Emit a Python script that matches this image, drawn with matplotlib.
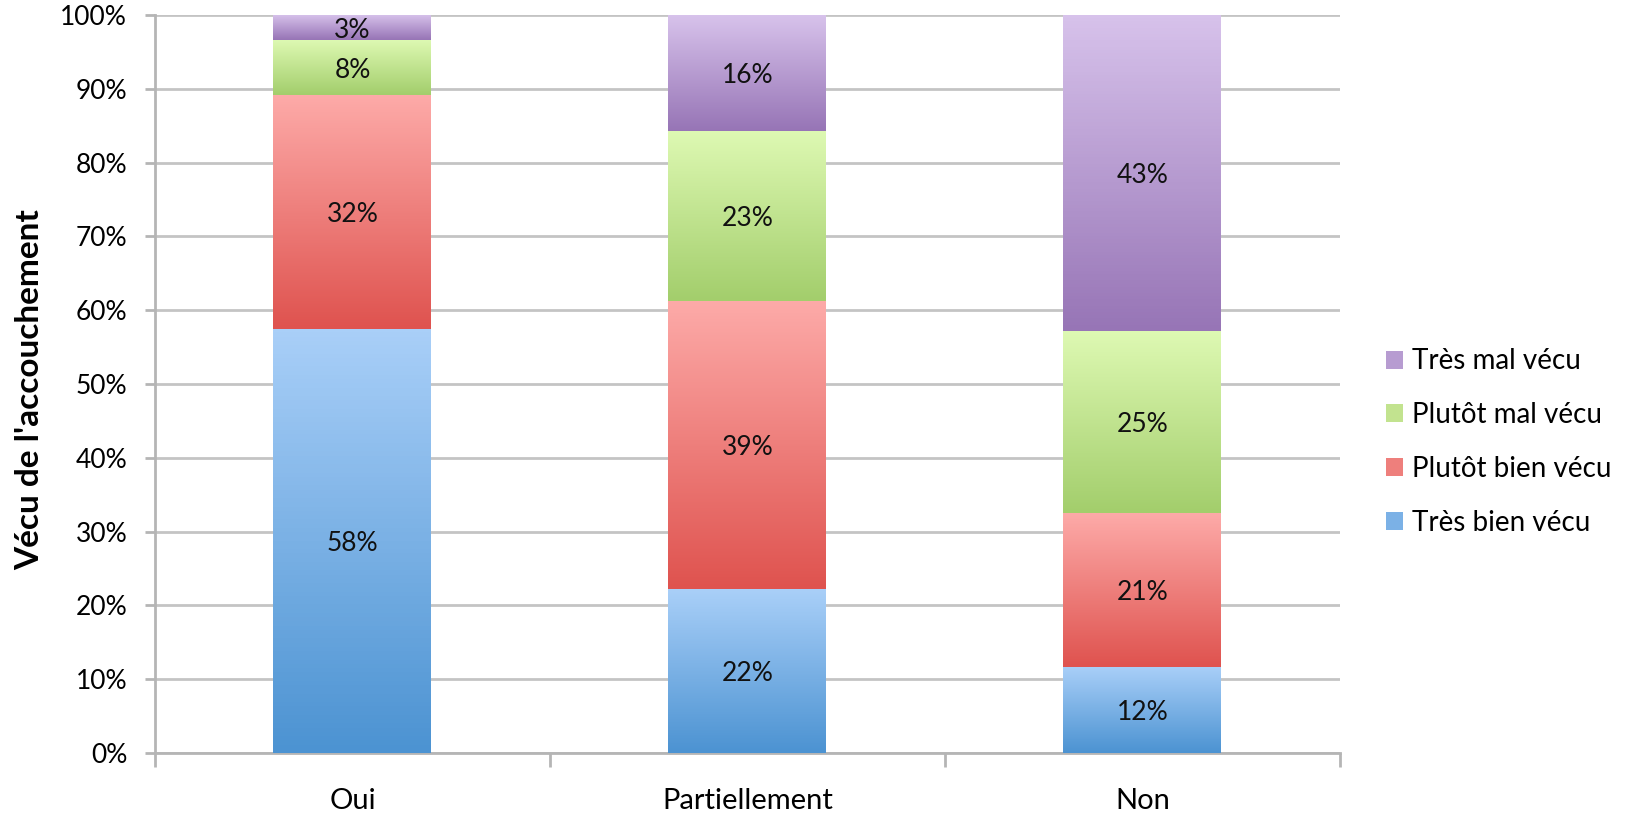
import numpy as np
import matplotlib
matplotlib.use("Agg")
import matplotlib.pyplot as plt
from matplotlib.patches import Patch
from matplotlib.colors import LinearSegmentedColormap

plt.rcParams['font.family'] = ['Lato', 'DejaVu Sans']

categories = ['Oui', 'Partiellement', 'Non']
series = ['Très bien vécu', 'Plutôt bien vécu', 'Plutôt mal vécu', 'Très mal vécu']
# share of each answer per category, in percent (bottom to top)
tres_bien = [57.5, 22.2, 11.7]
plutot_bien = [31.6, 39.0, 20.8]
plutot_mal = [7.5, 23.1, 24.7]
tres_mal = [3.4, 15.7, 42.8]
values = [tres_bien, plutot_bien, plutot_mal, tres_mal]

# gradient colours (top, bottom) per series
grad = [('#a9cff8', '#4c93d2'),
        ('#fdaaa8', '#df534f'),
        ('#def9b3', '#a3ce6c'),
        ('#d7c2eb', '#9775b6')]
mid = ['#7bb1e6', '#ee7f7c', '#c2e38f', '#b79cd1']

fig = plt.figure(figsize=(16.31, 8.18), dpi=100)
ax = fig.add_axes([155 / 1631, 1 - 753 / 818, (1340 - 155) / 1631, (753 - 15) / 818])

x = np.arange(len(categories))
bottom = np.zeros(len(categories))
for vals, (c_top, c_bot) in zip(values, grad):
    bars = ax.bar(x, vals, width=0.4, bottom=bottom, color='none', edgecolor='none', zorder=3)
    cmap = LinearSegmentedColormap.from_list('g', [c_bot, c_top])
    for b, v in zip(bars, vals):
        bb = b.get_bbox()
        ax.imshow(np.linspace(0, 1, 100).reshape(-1, 1), cmap=cmap, origin='lower',
                  extent=(bb.x0, bb.x1, bb.y0, bb.y1), aspect='auto', zorder=3)
        ax.text(b.get_x() + b.get_width() / 2, bb.y0 + v / 2, f'{round(v)}%',
                ha='center', va='center_baseline', fontsize=19, color='#111111', zorder=4)
    bottom += np.array(vals)

ax.set_xlim(-0.5, len(categories) - 0.5)
ax.set_ylim(0, 100)
ax.set_yticks(np.arange(0, 101, 10))
ax.set_yticklabels([f'{t}%' for t in range(0, 101, 10)], fontsize=19)
ax.set_xticks(x)
ax.set_xticklabels(categories, fontsize=21)
ax.set_xticks(np.arange(-0.5, len(categories)), minor=True)
ax.tick_params(axis='x', which='major', length=0, pad=25)
ax.tick_params(axis='x', which='minor', length=10, width=2, color='#b5b5b5')
ax.tick_params(axis='y', length=7, width=2, color='#b5b5b5', pad=13)

ax.grid(axis='y', color='#c4c4c4', linewidth=2, zorder=0)
ax.set_axisbelow(True)
for s in ['top', 'right']:
    ax.spines[s].set_visible(False)
for s in ['left', 'bottom']:
    ax.spines[s].set_color('#b5b5b5')
    ax.spines[s].set_linewidth(2)

fig.text(30 / 1631, 1 - 390 / 818, "Vécu de l'accouchement", rotation=90,
         ha='center', va='center', fontsize=24, fontweight='bold')

handles = [Patch(facecolor=c, edgecolor='none') for c in mid][::-1]
fig.legend(handles, series[::-1], loc='center left', bbox_to_anchor=(1386 / 1631, 1 - 442 / 818),
           frameon=False, fontsize=20, handlelength=0.62, handleheight=0.62,
           handletextpad=0.3, labelspacing=1.0, borderpad=0, borderaxespad=0)

fig.savefig('out.png', dpi=100)
